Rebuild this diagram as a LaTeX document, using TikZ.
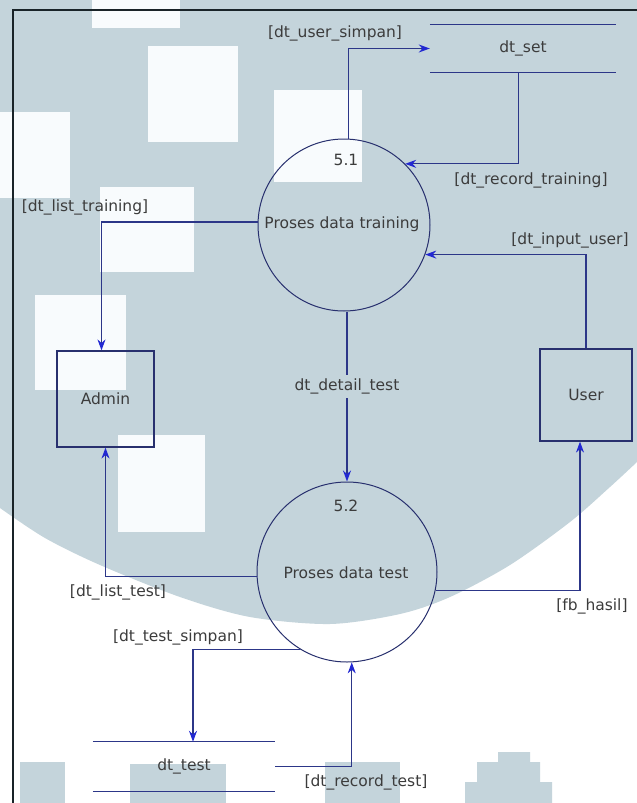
\documentclass[tikz,border=0pt]{standalone}
\usepackage{fontspec}
\setmainfont{DejaVu Sans}
\usetikzlibrary{arrows.meta,calc}
\definecolor{bgblue}{RGB}{196,212,219}
\definecolor{wsq}{RGB}{248,251,253}
\definecolor{flowc}{RGB}{44,54,136}
\definecolor{arrc}{RGB}{34,40,210}
\definecolor{txtc}{RGB}{60,60,60}
\definecolor{framec}{RGB}{25,35,40}
\definecolor{shapec}{RGB}{40,48,110}
\begin{document}
\begin{tikzpicture}[x=1pt,y=-1pt,
  every node/.style={font=\fontsize{15.5}{18}\selectfont, text=txtc, inner sep=0pt},
  proc/.style={circle, draw=shapec, line width=1pt, minimum size=#1},
  entity/.style={rectangle, draw=shapec, line width=1.2pt},
  store/.style={rectangle, minimum height=48pt, minimum width=#1},
  storeline/.style={draw=flowc, line width=1.3pt},
  flow/.style={draw=flowc, line width=1.3pt, -{Stealth[length=11pt,width=8pt,color=arrc]}},
  wsquare/.style={fill=wsq, draw=none},
  bluemark/.style={fill=bgblue, draw=none}]
\useasboundingbox (0,0) rectangle (637,803);
% ---------- background watermark ----------
\fill[white] (0,0) rectangle (637,803);
\fill[bgblue] (0,0) -- (637,0) -- plot[smooth] coordinates {(637,462) (610,487) (570,522) (510,565) (450,597) (400,614) (330,624) (250,617) (180,597) (100,565) (45,538) (0,508)}
  -- cycle;
\fill[wsquare] (92,0) rectangle (180,28);
\fill[wsquare] (148,46) rectangle (238,142);
\fill[wsquare] (0,112) rectangle (70,198);
\fill[wsquare] (100,187) rectangle (194,272);
\fill[wsquare] (35,295) rectangle (126,390);
\fill[wsquare] (118,435) rectangle (205,532);
\fill[wsquare] (274,90) rectangle (362,182);
\fill[bluemark] (20,762) rectangle (65,803);
\fill[bluemark] (130,764) rectangle (226,803);
\fill[bluemark] (325,762) rectangle (400,803);
\fill[bluemark] (465,803) -- (465,782) -- (477,782) -- (477,762) -- (498,762) -- (498,752)
  -- (530,752) -- (530,762) -- (540,762) -- (540,782) -- (552,782) -- (552,803) -- cycle;
% ---------- frame ----------
\draw[framec, line width=1.6pt] (13,803) -- (13,10) -- (637,10);
% ---------- nodes ----------
\node[proc=172pt] (p51) at (344,225) {};
\node (n51) at (346,160) {5.1};
\node (t51) at (342,224) {Proses data training};
\node[proc=180pt] (p52) at (347,572) {};
\node (n52) at (346,506) {5.2};
\node (t52) at (346,573) {Proses data test};
\node[entity, minimum width=97pt, minimum height=96pt] (admin) at (105.5,399) {Admin};
\node[entity, minimum width=92pt, minimum height=92pt] (user) at (586,395) {User};
\node[store=186pt, minimum height=47pt] (dtset) at (523,48.5) {dt\_set};
\draw[storeline] (dtset.north west) -- (dtset.north east);
\draw[storeline] (dtset.south west) -- (dtset.south east);
\node[store=182pt, minimum height=49pt] (dttest) at (184,766.5) {dt\_test};
\draw[storeline] (dttest.north west) -- (dttest.north east);
\draw[storeline] (dttest.south west) -- (dttest.south east);
% ---------- flows ----------
\draw[flow] (p51.87) |- (dtset.west);
\node (l1) at (335,33) {[dt\_user\_simpan]};
\draw[flow] ([xshift=-98pt]dtset.south east) |- (p51.45);
\node (l2) at (531,180) {[dt\_record\_training]};
\draw[flow] (p51.178) -| ([xshift=-4pt]admin.north);
\node (l3) at (85,207) {[dt\_list\_training]};
\draw[flow] (user.north) |- (p51.-20);
\node (l4) at (570,240) {[dt\_input\_user]};
\draw[flow] (p52.north |- p51.south) -- (p52.north)
  node[pos=0.44, fill=bgblue, inner xsep=1pt, inner ysep=4pt] (l5) {dt\_detail\_test};
\draw[flow] (p52.183) -| (admin.south);
\node (l6) at (118,592) {[dt\_list\_test]};
\draw[flow] (p52.-12) -| ([xshift=-6pt]user.south);
\node (l7) at (592,606) {[fb\_hasil]};
\draw[flow] (p52.239) -| ([xshift=9pt]dttest.north);
\node (l8) at (178,637) {[dt\_test\_simpan]};
\draw[flow] (dttest.east) -| (p52.-87);
\node (l9) at (366,782) {[dt\_record\_test]};
\end{tikzpicture}
\end{document}
